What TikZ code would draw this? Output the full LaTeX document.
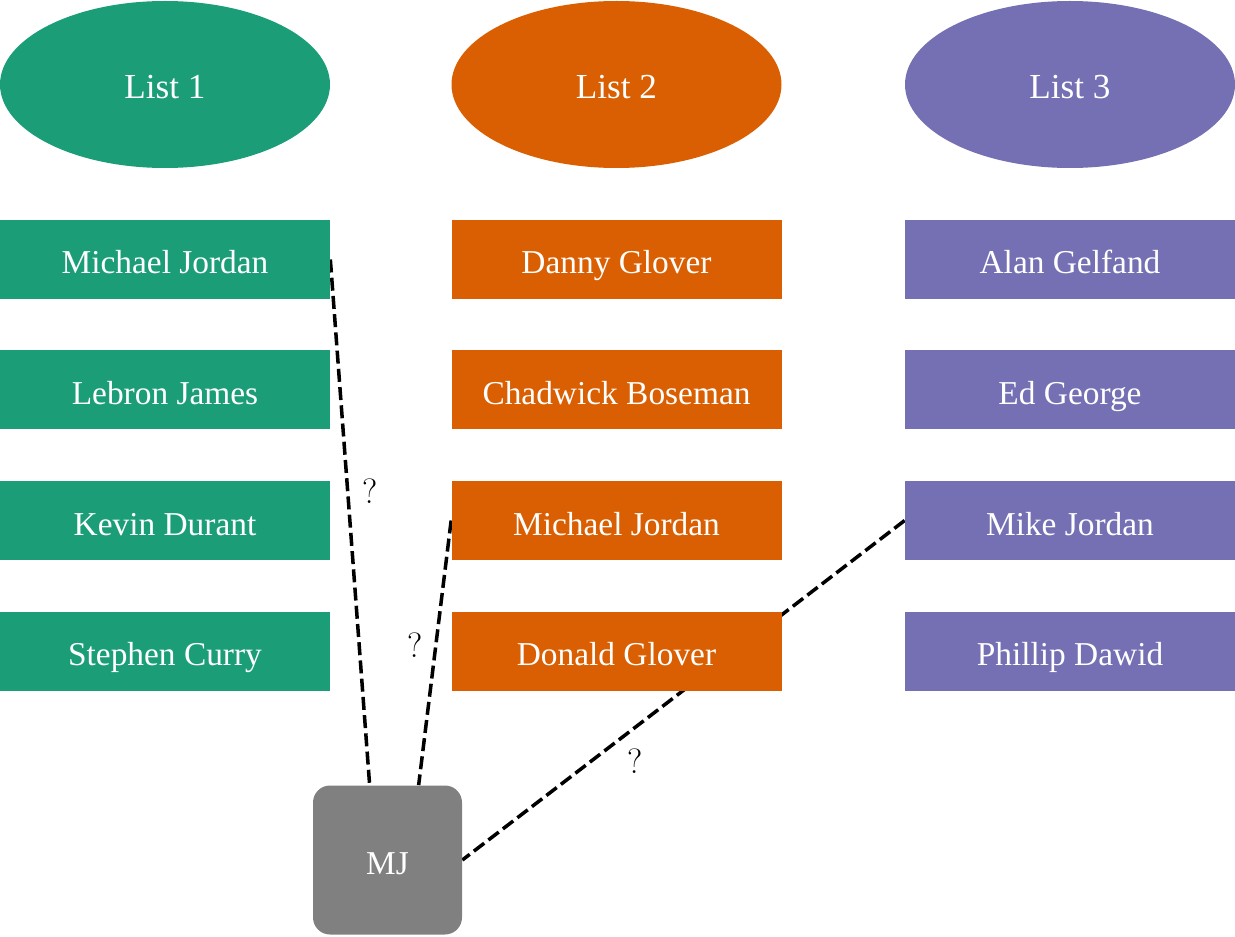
\documentclass[tikz,border=0pt]{standalone}
\usepackage{fontspec}
\newfontfamily\timesfont{Liberation Serif}
\usepackage{tikz}
\usetikzlibrary{shapes,arrows,backgrounds,positioning}

\definecolor{grn}{HTML}{1B9E77}
\definecolor{org}{HTML}{D95F02}
\definecolor{prp}{HTML}{7570B3}
\definecolor{gry}{HTML}{808080}

\tikzset{
  listhead/.style={ellipse,minimum width=6.6cm,minimum height=3.34cm,inner sep=0pt,
    text=white,text height=0.7cm,text depth=0.12cm,font=\timesfont\fontsize{20}{24}\selectfont},
  entry/.style={rectangle,minimum width=6.6cm,minimum height=1.58cm,inner sep=0pt,
    text=white,text height=0.7cm,text depth=0.12cm,font=\timesfont\fontsize{19}{23}\selectfont},
  link/.style={dash pattern=on 7.4pt off 3pt,line width=2pt},
  qmark/.style={font=\fontsize{20}{24}\selectfont,inner sep=1pt}
}

\begin{document}
\begin{tikzpicture}
      \useasboundingbox (0,0) rectangle (24.7,18.72);
      % list headers
      \node[listhead,fill=grn] at (3.3,17.03) (l1) {List 1};
      \node[listhead,fill=org] at (12.33,17.03) (l2) {List 2};
      \node[listhead,fill=prp] at (21.4,17.03) (l3) {List 3};
      % list 1
      \node[entry,fill=grn] at (3.3,13.53) (a1) {Michael Jordan};
      \node[entry,fill=grn] at (3.3,10.92) (a2) {Lebron James};
      \node[entry,fill=grn] at (3.3,8.31) (a3) {Kevin Durant};
      \node[entry,fill=grn] at (3.3,5.70) (a4) {Stephen Curry};
      % list 2
      \node[entry,fill=org] at (12.33,13.53) (b1) {Danny Glover};
      \node[entry,fill=org] at (12.33,10.92) (b2) {Chadwick Boseman};
      \node[entry,fill=org] at (12.33,8.31) (b3) {Michael Jordan};
      \node[entry,fill=org] at (12.33,5.70) (b4) {Donald Glover};
      % list 3
      \node[entry,fill=prp] at (21.4,13.53) (c1) {Alan Gelfand};
      \node[entry,fill=prp] at (21.4,10.92) (c2) {Ed George};
      \node[entry,fill=prp] at (21.4,8.31) (c3) {Mike Jordan};
      \node[entry,fill=prp] at (21.4,5.70) (c4) {Phillip Dawid};
      % query
      \node[rectangle,rounded corners=0.34cm,fill=gry,minimum size=2.98cm,inner sep=0pt,
        text=white,text height=0.7cm,text depth=0.12cm,
        font=\timesfont\fontsize{19}{23}\selectfont] at (7.75,1.52) (mj) {MJ};
      \coordinate (mjtop1) at ([xshift=1.14cm]mj.north west);
      \coordinate (mjtop2) at ([xshift=2.12cm]mj.north west);
      \begin{scope}[on background layer]
        \draw[link] (a1.east) -- (mjtop1) node[qmark,pos=0.44,right=0.22cm] (q1) {?};
        \draw[link] (b3.west) -- (mjtop2) node[qmark,pos=0.47,left=0.2cm] (q2) {?};
        \draw[link] (c3.west) -- (mj.east) node[qmark,pos=0.66,below right=0.02cm and 0.22cm] (q3) {?};
      \end{scope}
   \end{tikzpicture}
\end{document}
